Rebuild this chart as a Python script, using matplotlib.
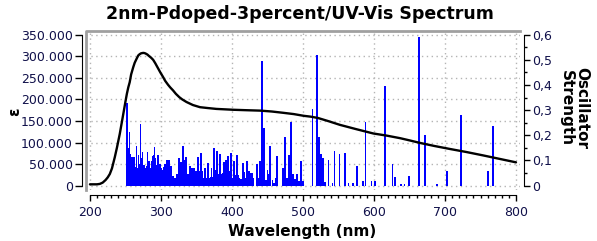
import numpy as np
import matplotlib
matplotlib.use('Agg')
import matplotlib.pyplot as plt
from matplotlib.ticker import FuncFormatter, MultipleLocator

# spectrum curve (epsilon)
wl_curve = [200, 205, 210, 214, 218, 222, 225, 228, 231, 235, 238, 242, 245, 248, 250, 252, 254,
            256, 258, 261, 263, 265, 268, 270, 272, 275, 277, 279, 281, 283, 286, 289, 292, 296,
            299, 303, 306, 310, 313, 317, 321, 326, 330, 336, 345, 355, 366, 378, 390, 402,
            420, 440, 456, 472, 487, 501, 511, 521, 537, 552, 575, 599, 618, 637, 650, 665,
            685, 707, 730, 754, 777, 800]
eps_curve = [3000, 3000, 3000, 4000, 7000, 13000, 19000, 27000, 40000, 66000, 88000, 120000,
             148000, 176000, 195000, 213000, 228000, 240000, 258000, 275000, 285000, 292000,
             302000, 305000, 307000, 308000, 307500, 306000, 304000, 301000, 297000, 292000,
             284000, 272000, 263000, 252000, 243000, 234000, 228000, 221000, 213000, 205000,
             200000, 194000, 187000, 182000, 180000, 178000, 177000, 176000,
             175000, 174000, 172000, 169000, 166000, 162000, 160000, 157000, 149000, 141000,
             131000, 121000, 116000, 110000, 105000, 99000, 92000, 85000, 78000, 70000, 62000,
             54000]

# dense block of transitions 250-440 nm (oscillator strength)
wl_dense = [251.4, 252.8, 254.2, 255.7, 257.1, 258.5, 259.9, 261.3, 262.7, 264.1, 265.5, 266.9,
            268.3, 269.8, 271.2, 272.6, 274.0, 275.4, 276.8, 278.2, 279.6, 281.0, 282.4, 283.9,
            285.3, 286.7, 288.1, 289.5, 290.9, 292.3, 293.7, 295.1, 296.5, 298.0, 299.4, 300.8,
            302.2, 303.6, 305.0, 306.4, 307.8, 309.2, 310.6, 312.1, 313.5, 314.9, 316.3, 317.7,
            319.1, 320.5, 321.9, 323.3, 324.7, 326.2, 327.6, 329.0, 330.4, 331.8, 333.2, 334.6,
            336.0, 337.4, 338.8, 340.3, 341.7, 343.1, 344.5, 345.9, 347.3, 348.7, 350.1, 351.5,
            352.9, 354.4, 355.8, 357.2, 358.6, 360.0, 361.4, 362.8, 364.2, 365.6, 367.0, 368.5,
            369.9, 371.3, 372.7, 374.1, 375.5, 376.9, 378.3, 379.7, 381.1, 382.6, 384.0, 385.4,
            386.8, 388.2, 389.6, 391.0, 392.4, 393.8, 395.2, 396.7, 398.1, 399.5, 400.9, 402.3,
            403.7, 405.1, 406.5, 407.9, 409.3, 410.8, 412.2, 413.6, 415.0, 416.4, 417.8, 419.2,
            420.6, 422.0, 423.4, 424.9, 426.3, 427.7, 429.1, 430.5, 434.7, 436.1, 437.5, 439.0,
            440.4]
f_dense = [0.329, 0.329, 0.149, 0.213, 0.125, 0.112, 0.112, 0.112, 0.112, 0.076, 0.157, 0.072,
           0.122, 0.085, 0.245, 0.109, 0.133, 0.083, 0.083, 0.069, 0.080, 0.132, 0.099, 0.099,
           0.072, 0.096, 0.116, 0.122, 0.152, 0.109, 0.083, 0.122, 0.122, 0.085, 0.085, 0.069,
           0.062, 0.076, 0.085, 0.085, 0.102, 0.102, 0.102, 0.102, 0.078, 0.078, 0.040, 0.040,
           0.029, 0.029, 0.045, 0.045, 0.109, 0.109, 0.093, 0.093, 0.156, 0.156, 0.102, 0.113,
           0.113, 0.045, 0.045, 0.078, 0.078, 0.071, 0.071, 0.069, 0.069, 0.060, 0.060, 0.113,
           0.113, 0.059, 0.129, 0.129, 0.059, 0.029, 0.069, 0.069, 0.029, 0.089, 0.089, 0.029,
           0.033, 0.069, 0.035, 0.149, 0.149, 0.063, 0.138, 0.138, 0.045, 0.125, 0.125, 0.045,
           0.049, 0.093, 0.093, 0.102, 0.102, 0.116, 0.116, 0.059, 0.129, 0.129, 0.029, 0.099,
           0.099, 0.042, 0.120, 0.120, 0.042, 0.029, 0.027, 0.027, 0.089, 0.089, 0.053, 0.029,
           0.099, 0.099, 0.059, 0.059, 0.049, 0.049, 0.049, 0.032, 0.085, 0.085, 0.029, 0.099,
           0.099]

# isolated transitions
wl_sticks = [442.3, 445.0, 448.0, 450.0, 452.5, 454.0, 457.0, 459.5, 462.0, 464.0, 471.5, 474.8,
             477.5, 480.0, 483.0, 486.0, 489.0, 491.5, 494.0, 497.0, 500.0, 513.5, 520.0, 523.0,
             525.5, 528.0, 531.0, 536.0, 541.5, 544.4, 551.5, 558.6, 564.0, 571.0, 575.5, 584.0,
             588.0, 596.6, 601.0, 615.0, 626.0, 629.0, 637.5, 643.0, 649.0, 663.0, 672.0, 689.0,
             703.0, 723.0, 761.0, 768.0]
f_sticks = [0.497, 0.230, 0.021, 0.061, 0.045, 0.157, 0.021, 0.011, 0.032, 0.117, 0.071, 0.195,
            0.030, 0.121, 0.255, 0.045, 0.028, 0.048, 0.020, 0.097, 0.020, 0.305, 0.521, 0.195,
            0.125, 0.110, 0.014, 0.101, 0.012, 0.139, 0.125, 0.130, 0.012, 0.011, 0.078, 0.020,
            0.255, 0.017, 0.017, 0.397, 0.085, 0.035, 0.006, 0.006, 0.039, 0.590, 0.201, 0.008,
            0.057, 0.281, 0.057, 0.237]

navy = '#10104a'

fig = plt.figure(figsize=(5.97, 2.41), dpi=100)
ax = fig.add_axes([0.144, 0.212, 0.727, 0.659])
ax2 = ax.twinx()

# bars on the strength axis, curve on top of them in epsilon units
ax2.bar(wl_dense, f_dense, width=1.45, color='#0000ff', linewidth=0)
ax2.bar(wl_sticks, f_sticks, width=2.6, color='#0000ff', linewidth=0)
ax2.plot(wl_curve, eps_curve, color='black', lw=1.7, transform=ax.transData,
         solid_joinstyle='round', solid_capstyle='round')

ax.set_xlim(194.4, 805.6)
ax.set_ylim(-9970, 358600)
ax2.set_ylim(-9970 * 0.6 / 350000, 358600 * 0.6 / 350000)

ax.grid(True, color='#b4b4b4', linestyle=(0, (1, 2.5)), lw=1)
ax.set_axisbelow(True)
ax.xaxis.set_major_locator(MultipleLocator(100))
ax.xaxis.set_minor_locator(MultipleLocator(10))
ax.yaxis.set_major_locator(MultipleLocator(50000))
ax2.yaxis.set_major_locator(MultipleLocator(0.1))
ax2.yaxis.set_minor_locator(MultipleLocator(0.05))

ax.yaxis.set_major_formatter(FuncFormatter(lambda v, p: '{:,.0f}'.format(v).replace(',', '.')))
ax2.yaxis.set_major_formatter(FuncFormatter(lambda v, p: ('%g' % round(v, 2)).replace('.', ',')))

for s in ['top', 'right']:
	ax.spines[s].set_visible(False)
for s in ['top', 'left', 'bottom']:
	ax2.spines[s].set_visible(False)
ax.spines['left'].set_position(('outward', 3))
ax.spines['left'].set_bounds(0, 350000)
ax.spines['bottom'].set_position(('outward', 4))
ax.spines['bottom'].set_bounds(200, 800)
ax2.spines['right'].set_position(('outward', 3))
ax2.spines['right'].set_bounds(0, 0.6)

ax.tick_params(axis='x', which='major', length=4.5, width=1, pad=3, labelsize=9, labelcolor=navy)
ax.tick_params(axis='x', which='minor', length=2.5, width=1)
ax.tick_params(axis='y', length=5, width=1, pad=1.5, labelsize=9, labelcolor=navy)
ax2.tick_params(axis='y', which='major', length=4, width=1, pad=2, labelsize=9, labelcolor=navy)
ax2.tick_params(axis='y', which='minor', length=2.5, width=1)

# grey bevel on top and left of the plot area
ax.plot([0, 0, 1], [0, 1, 1], transform=ax.transAxes, color='#a0a0a0', lw=2, clip_on=False)

fig.text(0.503, 0.94, '2nm-Pdoped-3percent/UV-Vis Spectrum', ha='center', va='center',
         fontsize=12.5, fontweight='bold')
fig.text(0.506, 0.04, 'Wavelength (nm)', ha='center', va='center', fontsize=11, fontweight='bold')
fig.text(0.024, 0.535, 'ε', ha='center', va='center', rotation=90, fontsize=11, fontweight='bold')
fig.text(0.962, 0.55, 'Oscillator\nStrength', ha='center', va='center', rotation=270,
         fontsize=11, fontweight='bold', linespacing=1.0)

fig.savefig('out.png', dpi=100)
